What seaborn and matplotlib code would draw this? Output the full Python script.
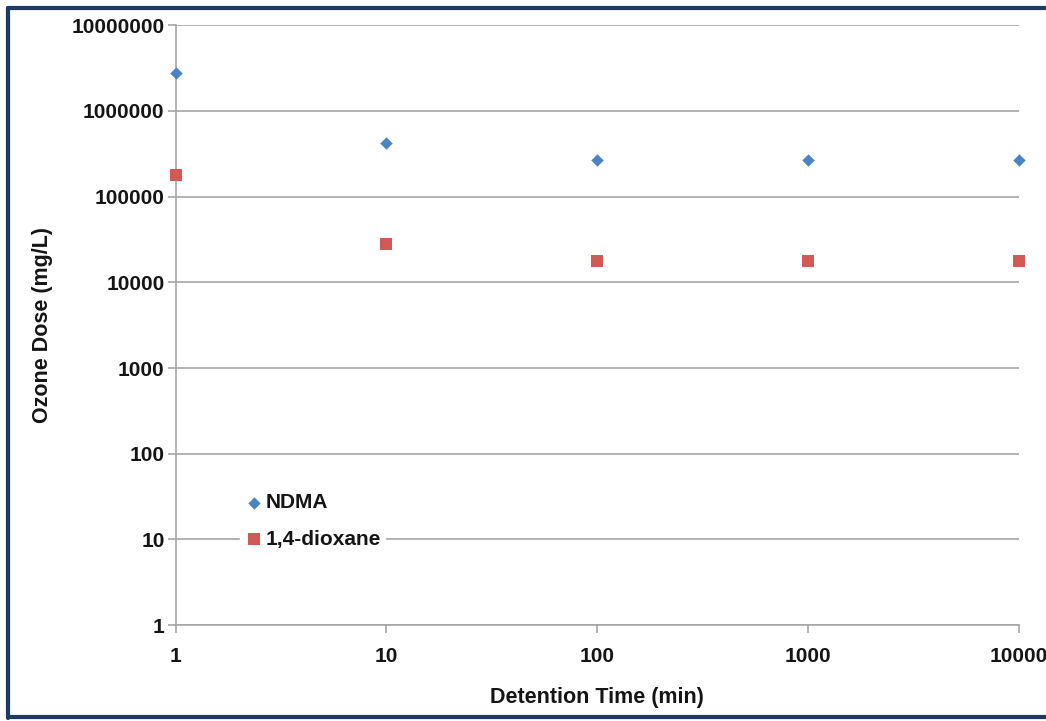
import matplotlib
matplotlib.use("Agg")
from matplotlib import pyplot as plt
from matplotlib.lines import Line2D
from matplotlib.ticker import LogLocator, FuncFormatter, NullLocator
import seaborn as sns

detention_time = [1, 10, 100, 1000, 10000]
ndma_dose = [2.8e6, 4.2e5, 2.65e5, 2.65e5, 2.65e5]
dioxane_dose = [1.8e5, 2.8e4, 1.75e4, 1.75e4, 1.75e4]
series_names = ["NDMA", "1,4-dioxane"]

BLUE = "#4a84c4"
RED = "#d05a56"
GRID = "#a6a6a6"
TEXT = "#151515"

sns.set_theme(style="white")
plt.rcParams["font.family"] = ["Liberation Sans", "DejaVu Sans"]

fig = plt.figure(figsize=(10.46, 7.21), dpi=100)
ax = fig.add_axes([0.168, 0.133, 0.806, 0.832])

sns.scatterplot(x=detention_time, y=ndma_dose, marker="D", color=BLUE, s=40,
                linewidth=0, ax=ax, zorder=3, clip_on=False, label=series_names[0])
sns.scatterplot(x=detention_time, y=dioxane_dose, marker="s", color=RED, s=80,
                linewidth=0, ax=ax, zorder=3, clip_on=False, label=series_names[1])

ax.set_xscale("log")
ax.set_yscale("log")
ax.set_xlim(1, 10000)
ax.set_ylim(1, 1e7)
ax.xaxis.set_major_locator(LogLocator(base=10, numticks=10))
ax.yaxis.set_major_locator(LogLocator(base=10, numticks=10))
ax.xaxis.set_minor_locator(NullLocator())
ax.yaxis.set_minor_locator(NullLocator())
fmt = FuncFormatter(lambda v, p: "{:d}".format(int(round(v))))
ax.xaxis.set_major_formatter(fmt)
ax.yaxis.set_major_formatter(fmt)

ax.grid(axis="y", color=GRID, linewidth=1.2)
ax.set_axisbelow(True)
for side in ["top", "right"]:
    ax.spines[side].set_visible(False)
for side in ["left", "bottom"]:
    ax.spines[side].set_color(GRID)
    ax.spines[side].set_linewidth(1.2)
ax.tick_params(axis="both", which="major", direction="out", length=6, width=1.2,
               color=GRID, labelsize=15, labelcolor=TEXT, bottom=True, left=True)
ax.tick_params(axis="y", pad=2)
ax.tick_params(axis="x", pad=10)
for lab in ax.get_xticklabels() + ax.get_yticklabels():
    lab.set_fontweight("bold")

ax.set_xlabel("Detention Time (min)", fontsize=15.5, fontweight="bold", color=TEXT, labelpad=15)
ax.set_ylabel("Ozone Dose (mg/L)", fontsize=15.5, fontweight="bold", color=TEXT, labelpad=13)

leg = ax.legend(loc="lower left", bbox_to_anchor=(0.076, 0.12), frameon=True,
                framealpha=1, edgecolor="white", fontsize=15, handletextpad=0.05,
                borderpad=0.2, labelspacing=0.85, handlelength=1.0, borderaxespad=0)
for t in leg.get_texts():
    t.set_fontweight("bold")
    t.set_color(TEXT)

navy = "#1c3a66"
fig.add_artist(Line2D([0.008, 1.0], [0.989, 0.989], color=navy, linewidth=3, transform=fig.transFigure))
fig.add_artist(Line2D([0.008, 0.008], [0.004, 0.989], color=navy, linewidth=3, transform=fig.transFigure))
fig.add_artist(Line2D([0.008, 1.0], [0.005, 0.005], color=navy, linewidth=3, transform=fig.transFigure))

fig.savefig("out.png", dpi=100)
